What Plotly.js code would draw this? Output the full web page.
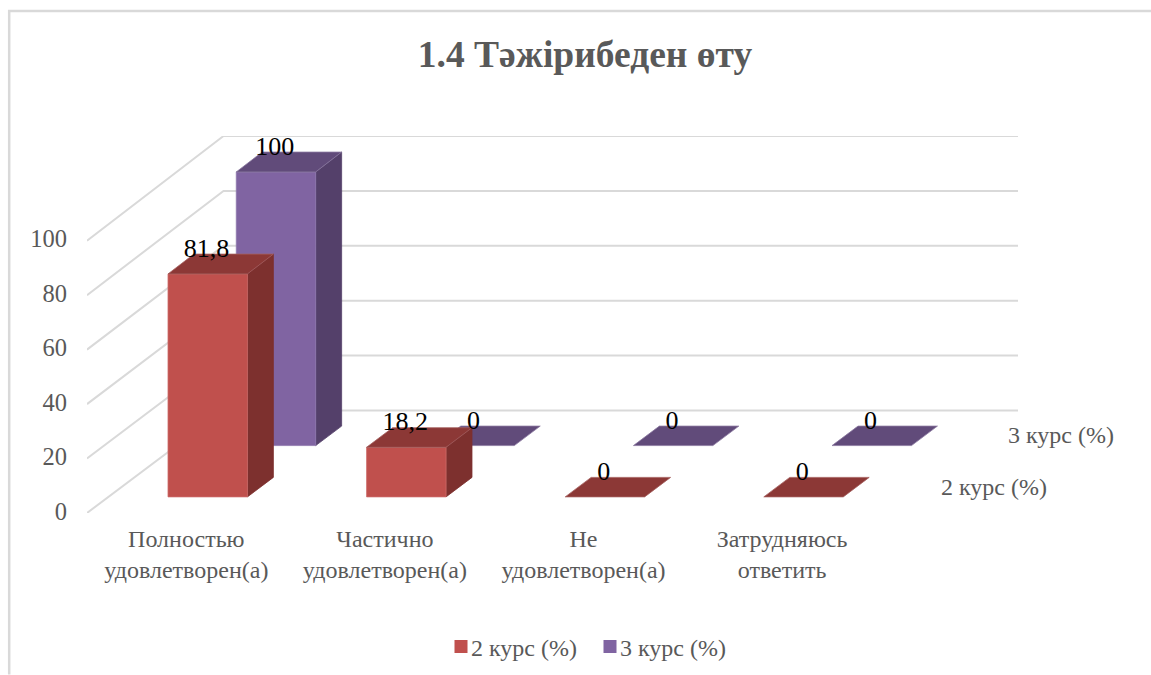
<!DOCTYPE html>
<html>
<head>
<meta charset="utf-8">
<script src="https://cdn.plot.ly/plotly-3.0.1.min.js"></script>
<style>html,body{margin:0;padding:0;background:#fff}#chart{width:1151px;height:675px}</style>
</head>
<body>
<div id="chart"></div>
<script>
const categories = ["Полностью<br>удовлетворен(а)", "Частично<br>удовлетворен(а)", "Не<br>удовлетворен(а)", "Затрудняюсь<br>ответить"];
const seriesNames = ["2 курс (%)", "3 курс (%)"];
const course2 = [81.8, 18.2, 0, 0];
const course3 = [100, 0, 0, 0];
const course2Labels = ["81,8", "18,2", "0", "0"];
const course3Labels = ["100", "0", "0", "0"];
const yTicks = [0, 20, 40, 60, 80, 100];

const FONT = '"Liberation Serif", "Times New Roman", serif';
const W = 1151, H = 675;
const L = 87, B = 513.3, T = 136;           // plot box in pixels
const CAT = 198.6, PXV = 2.725;             // pixels per category / per value unit
const DX = 136.5 / CAT, DY = 102.7 / PXV;   // oblique offset of the back wall, in axis units
const K = 0.0076;                           // slight perspective of the value scale
const BAR = 0.4, THICK = 0.19;
const rowDepth = [0.157, 0.657];
const xMax = (W - L) / CAT, yMax = (B - T) / PXV;
const wallRight = (1018 - L) / CAT;

const pt = (x, v, d) => [x + d * DX, v * (1 + K * d) + d * DY];

function poly(points, color, edge) {
  const p = points.concat([points[0]]);
  return {
    type: 'scatter', mode: 'lines', x: p.map(q => q[0]), y: p.map(q => q[1]),
    fill: 'toself', fillcolor: color, line: {color: edge, width: 0.8},
    hoverinfo: 'skip', showlegend: false
  };
}

const traces = [];

// back wall grid lines with the oblique run-in on the side wall
yTicks.forEach(v => {
  const a = pt(0, v, 0), b = pt(0, v, 1), c = pt(wallRight - DX, v, 1);
  traces.push({type: 'scatter', mode: 'lines', x: [a[0], b[0], c[0]], y: [a[1], b[1], c[1]],
    line: {color: '#d9d9d9', width: 2}, hoverinfo: 'skip', showlegend: false});
});

function addBars(values, row, cols) {
  values.forEach((v, i) => {
    const l = i + (1 - BAR) / 2, r = l + BAR, d1 = rowDepth[row], d2 = d1 + THICK;
    if (v > 0) {
      traces.push(poly([pt(r, 0, d1), pt(r, 0, d2), pt(r, v, d2), pt(r, v, d1)], cols.side, cols.side));
      traces.push(poly([pt(l, 0, d1), pt(r, 0, d1), pt(r, v, d1), pt(l, v, d1)], cols.front, cols.edge));
    }
    traces.push(poly([pt(l, v, d1), pt(r, v, d1), pt(r, v, d2), pt(l, v, d2)], cols.top, cols.edge2));
  });
}
const red = {front: '#c0504d', side: '#7d302e', top: '#8c3836', edge: '#cb6a67', edge2: '#a5605e'};
const purple = {front: '#8064a2', side: '#54406a', top: '#614b7a', edge: '#8f78ad', edge2: '#8a78a0'};
addBars(course3, 1, purple);
addBars(course2, 0, red);

// data labels above the back edge of each bar top
function addLabels(values, labels, row) {
  const xs = [], ys = [];
  values.forEach((v, i) => {
    const p = pt(i + 0.5 - 0.006, v, rowDepth[row]);
    const back = pt(i, v, rowDepth[row] + THICK);
    xs.push(p[0]); ys.push(back[1] + 3.8 / PXV);
  });
  traces.push({type: 'scatter', mode: 'text', x: xs, y: ys, text: labels, textposition: 'middle center',
    textfont: {family: FONT, size: 26, color: '#000'}, hoverinfo: 'skip', showlegend: false, cliponaxis: false});
}
addLabels(course3, course3Labels, 1);
addLabels(course2, course2Labels, 0);

// legend entries
traces.push({type: 'scatter', mode: 'markers', x: [null], y: [null], name: seriesNames[0],
  marker: {symbol: 'square', size: 13, color: red.front}});
traces.push({type: 'scatter', mode: 'markers', x: [null], y: [null], name: seriesNames[1],
  marker: {symbol: 'square', size: 13, color: purple.front}});

const px = x => (x - L) / (W - L);
const py = y => (B - y) / (B - T);

const layout = {
  width: W, height: H, autosize: false,
  paper_bgcolor: '#fff', plot_bgcolor: 'rgba(0,0,0,0)',
  margin: {l: L, r: 0, t: T, b: H - B, pad: 0},
  title: {text: '<b>1.4 Тәжірибеден өту</b>', x: 585 / W, xref: 'container', xanchor: 'center',
    y: 1 - 54 / H, yref: 'container', yanchor: 'middle',
    font: {family: FONT, size: 37.5, color: '#595959'}},
  xaxis: {range: [0, xMax], tickvals: [0.5, 1.5, 2.5, 3.5], ticktext: categories, showgrid: false,
    zeroline: false, showline: false, ticks: '', ticklabelstandoff: 9, tickangle: 0,
    tickfont: {family: FONT, size: 24, color: '#595959'}},
  yaxis: {range: [0, yMax], tickvals: yTicks, showgrid: false, zeroline: false, showline: false,
    ticks: '', ticklabelstandoff: 19, ticklabelshift: -2,
    tickfont: {family: FONT, size: 24.5, color: '#595959'}},
  showlegend: true,
  legend: {orientation: 'h', xref: 'container', yref: 'container', x: 431 / W, xanchor: 'left',
    y: 1 - 647 / H, yanchor: 'middle', bgcolor: 'rgba(0,0,0,0)', entrywidth: 104, entrywidthmode: 'pixels',
    font: {family: FONT, size: 24, color: '#595959'}},
  shapes: [
    {type: 'line', xref: 'paper', yref: 'paper', x0: px(9.2), x1: px(9.2), y0: py(675), y1: py(10),
      line: {color: '#d9d9d9', width: 2.5}},
    {type: 'line', xref: 'paper', yref: 'paper', x0: px(8), x1: px(1151), y0: py(11), y1: py(11),
      line: {color: '#d9d9d9', width: 2.5}}
  ],
  annotations: [
    {xref: 'paper', yref: 'paper', x: px(1061), y: py(435), text: seriesNames[1], showarrow: false,
      xanchor: 'center', yanchor: 'middle', font: {family: FONT, size: 24, color: '#595959'}},
    {xref: 'paper', yref: 'paper', x: px(993.5), y: py(487), text: seriesNames[0], showarrow: false,
      xanchor: 'center', yanchor: 'middle', font: {family: FONT, size: 24, color: '#595959'}}
  ]
};

Plotly.newPlot('chart', traces, layout, {displayModeBar: false, staticPlot: true}).then(gd => {
  // the reference keeps its legend swatches close to their text
  gd.querySelectorAll('.legend .legendsymbols').forEach(s => s.setAttribute('transform', 'translate(10,0)'));
});
</script>
</body>
</html>
